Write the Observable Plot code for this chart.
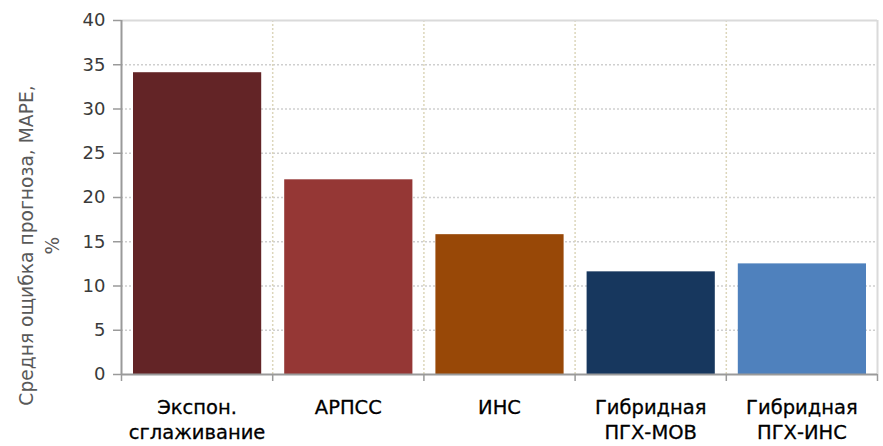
<!DOCTYPE html>
<html>
<head>
<meta charset="utf-8">
<script src="https://cdn.jsdelivr.net/npm/d3@7"></script>
<script src="https://cdn.jsdelivr.net/npm/@observablehq/plot@0.6"></script>
<style>
  html, body { margin: 0; padding: 0; background: #fff; }
  #chart svg { display: block; }
</style>
</head>
<body>
<div id="chart"></div>
<script>
// Forecast methods (multi-line labels) and their mean absolute percentage error
const methods = ["Экспон.\nсглаживание", "АРПСС", "ИНС", "Гибридная\nПГХ-МОВ", "Гибридная\nПГХ-ИНС"];
const mape = [34.1, 22.0, 15.8, 11.6, 12.5];
const barColors = ["#632426", "#953735", "#984807", "#17375E", "#4F81BD"];
const yTicks = [0, 5, 10, 15, 20, 25, 30, 35, 40];
const yTitle = "Средня ощибка прогноза, MAPE,\n%";

// Each method occupies one unit slot [i, i+1] on a linear x scale,
// so slot boundaries can carry the vertical grid and tick marks.
const rows = methods.map((m, i) => ({method: m, value: mape[i], color: barColors[i], i}));
const slots = d3.range(methods.length + 1);

const chart = Plot.plot({
  width: 883,
  height: 446,
  marginLeft: 121,
  marginRight: 6,
  marginTop: 20,
  marginBottom: 72,
  style: {fontFamily: "'DejaVu Sans', sans-serif", background: "#fff"},
  x: {domain: [0, methods.length], axis: null},
  y: {domain: [0, 40], axis: null},
  marks: [
    // dotted grid
    Plot.ruleY(yTicks.slice(1, -1), {stroke: "#cfcfcf", strokeWidth: 1.5, strokeDasharray: "2,2"}),
    Plot.ruleX(slots.slice(1, -1), {stroke: "#dcd6bb", strokeWidth: 1.5, strokeDasharray: "2,2"}),
    // light frame on top and right
    Plot.ruleY([40], {stroke: "#dadada", strokeWidth: 2}),
    Plot.ruleX([methods.length], {stroke: "#dadada", strokeWidth: 2}),
    // bars
    Plot.rectY(rows, {x1: "i", x2: d => d.i + 1, y1: 0, y2: "value", fill: "color", insetLeft: 12, insetRight: 11}),
    // axes
    Plot.ruleX([0], {stroke: "#9a9a9a", strokeWidth: 2}),
    Plot.ruleY([0], {stroke: "#9a9a9a", strokeWidth: 2}),
    Plot.axisY({ticks: yTicks, label: null, tickSize: 8, tickPadding: 8, fontSize: 18, stroke: "#9a9a9a", fill: "#3a3a3a", strokeWidth: 1.5}),
    Plot.axisX({ticks: slots, label: null, tickSize: 7, tickFormat: () => "", stroke: "#9a9a9a", strokeWidth: 1.5}),
    // category labels centred under each slot
    Plot.text(rows, {x: d => d.i + 0.5, text: "method", frameAnchor: "bottom", lineAnchor: "top", dy: 21, fontSize: 19.5, lineHeight: 1.3, fill: "#000", stroke: "#000", strokeWidth: 0.3}),
    // y-axis title
    Plot.text([yTitle], {frameAnchor: "left", rotate: -90, dx: -83.5, dy: 48, fontSize: 18.7, lineHeight: 1.35, fill: "#595959", textAnchor: "middle", lineAnchor: "middle"})
  ]
});

document.getElementById("chart").append(chart);
</script>
</body>
</html>
